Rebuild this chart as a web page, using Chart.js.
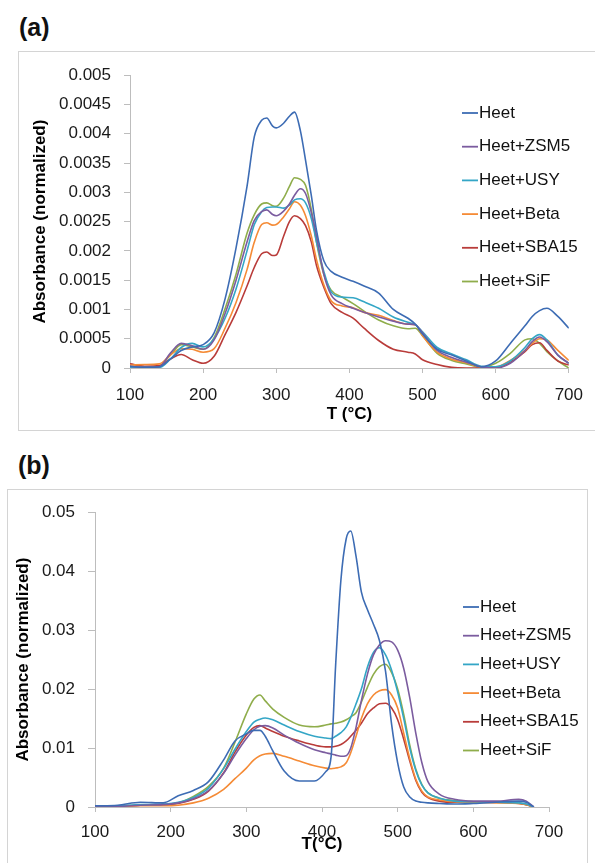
<!DOCTYPE html>
<html lang="en">
<head>
<meta charset="UTF-8">
<title>Absorbance vs temperature</title>
<script src="https://cdn.jsdelivr.net/npm/chart.js@4.4.1/dist/chart.umd.min.js"></script>
<style>
  body { margin: 0; background: #fff; width: 595px; height: 863px; overflow: hidden; position: relative;
         font-family: 'Liberation Sans', Arial, sans-serif; }
  .panel { position: absolute; font-weight: bold; font-size: 25px; line-height: 26px; color: #111; }
  .box { position: absolute; border: 1px solid #d4d4d4; box-sizing: border-box; }
  canvas { position: absolute; }
</style>
</head>
<body>
<div class="panel" style="left:19px;top:14px">(a)</div>
<div class="box" style="left:18px;top:51px;width:600px;height:380px"></div>
<canvas id="chartA" width="577" height="378" style="left:18px;top:52px"></canvas>

<div class="panel" style="left:18px;top:452px">(b)</div>
<div class="box" style="left:7px;top:489px;width:581px;height:400px"></div>
<canvas id="chartB" width="580" height="374" style="left:7px;top:489px"></canvas>

<script>
// ---- panel (a) ----
const tempA = [100,120,140,155,170,185,200,215,230,245,260,270,280,287,295,300,310,318,325,333,340,348,355,365,375,390,405,420,440,460,480,490,500,520,540,560,580,600,620,640,650,660,670,685,700];
const heetA  = [0.00003,0.00001,0.00002,0.00015,0.00030,0.00036,0.00040,0.00060,0.00118,0.00205,0.00310,0.00395,0.00423,0.00427,0.00413,0.00410,0.00418,0.00430,0.00437,0.00405,0.00355,0.00294,0.00235,0.00183,0.00165,0.00155,0.00148,0.00140,0.00128,0.00100,0.00085,0.00075,0.00058,0.00032,0.00022,0.00012,0.00002,0.00012,0.00042,0.00072,0.00088,0.00098,0.00102,0.00088,0.00068];
const zsm5A  = [0.00003,0.00001,0.00002,0.00025,0.00042,0.00038,0.00032,0.00048,0.00093,0.00150,0.00215,0.00252,0.00267,0.00270,0.00262,0.00260,0.00268,0.00280,0.00295,0.00306,0.00298,0.00265,0.00225,0.00160,0.00125,0.00110,0.00102,0.00095,0.00087,0.00080,0.00075,0.00074,0.00060,0.00030,0.00018,0.00010,0.00002,0.00000,0.00008,0.00030,0.00045,0.00053,0.00045,0.00022,0.00008];
const usyA   = [0.00001,0.00001,0.00001,0.00015,0.00035,0.00042,0.00036,0.00050,0.00085,0.00135,0.00200,0.00245,0.00267,0.00274,0.00275,0.00275,0.00273,0.00278,0.00287,0.00289,0.00282,0.00255,0.00215,0.00165,0.00130,0.00121,0.00120,0.00113,0.00102,0.00087,0.00078,0.00074,0.00062,0.00035,0.00024,0.00014,0.00003,0.00002,0.00012,0.00035,0.00050,0.00057,0.00048,0.00022,0.00008];
const betaA  = [0.00005,0.00006,0.00007,0.00022,0.00033,0.00032,0.00027,0.00033,0.00068,0.00112,0.00168,0.00215,0.00245,0.00248,0.00244,0.00245,0.00258,0.00272,0.00284,0.00278,0.00260,0.00225,0.00185,0.00142,0.00115,0.00106,0.00103,0.00095,0.00090,0.00081,0.00075,0.00074,0.00055,0.00027,0.00015,0.00009,0.00002,0.00002,0.00013,0.00030,0.00042,0.00050,0.00048,0.00030,0.00013];
const sba15A = [0.00007,0.00003,0.00004,0.00015,0.00023,0.00014,0.00008,0.00020,0.00057,0.00095,0.00140,0.00172,0.00195,0.00198,0.00192,0.00193,0.00225,0.00250,0.00260,0.00255,0.00243,0.00215,0.00175,0.00138,0.00110,0.00095,0.00085,0.00068,0.00047,0.00032,0.00027,0.00024,0.00014,0.00006,0.00001,0.00000,0.00000,0.00000,0.00010,0.00028,0.00040,0.00043,0.00030,0.00012,0.00005];
const sifA   = [0.00001,0.00001,0.00003,0.00022,0.00040,0.00036,0.00032,0.00052,0.00101,0.00160,0.00230,0.00262,0.00280,0.00282,0.00277,0.00276,0.00290,0.00310,0.00325,0.00322,0.00312,0.00270,0.00215,0.00160,0.00133,0.00121,0.00110,0.00097,0.00082,0.00072,0.00067,0.00068,0.00055,0.00025,0.00013,0.00007,0.00001,0.00008,0.00025,0.00048,0.00050,0.00042,0.00028,0.00012,0.00000];

// ---- panel (b) ----
const tempB = [100,130,160,190,210,230,250,270,285,300,310,318,325,335,350,370,390,405,412,418,425,432,438,445,452,460,468,476,484,492,500,508,516,524,532,540,555,575,600,630,660,670,680];
const heetB  = [0.0002,0.0003,0.0008,0.0007,0.0019,0.0028,0.0043,0.0080,0.0112,0.0124,0.0130,0.0130,0.0120,0.0095,0.0061,0.0044,0.0044,0.0060,0.0085,0.0240,0.0385,0.0455,0.0468,0.0425,0.0365,0.0335,0.0310,0.0282,0.0230,0.0140,0.0075,0.0034,0.0017,0.0010,0.0008,0.0007,0.0006,0.0005,0.0006,0.0008,0.0010,0.0008,0.0000];
const zsm5B  = [0.0001,0.0001,0.0003,0.0004,0.0007,0.0014,0.0028,0.0057,0.0088,0.0116,0.0131,0.0137,0.0138,0.0134,0.0122,0.0108,0.0097,0.0092,0.0090,0.0088,0.0086,0.0087,0.0100,0.0135,0.0180,0.0225,0.0258,0.0275,0.0282,0.0280,0.0266,0.0235,0.0185,0.0125,0.0075,0.0043,0.0022,0.0013,0.0010,0.0010,0.0013,0.0010,0.0000];
const usyB   = [0.0001,0.0002,0.0004,0.0005,0.0008,0.0016,0.0032,0.0065,0.0098,0.0128,0.0144,0.0149,0.0151,0.0148,0.0139,0.0128,0.0120,0.0117,0.0116,0.0120,0.0126,0.0136,0.0152,0.0175,0.0200,0.0237,0.0262,0.0270,0.0258,0.0232,0.0195,0.0150,0.0100,0.0062,0.0037,0.0024,0.0015,0.0010,0.0009,0.0008,0.0007,0.0005,0.0000];
const betaB  = [0.0001,0.0001,0.0002,0.0002,0.0003,0.0007,0.0015,0.0030,0.0048,0.0066,0.0080,0.0087,0.0090,0.0091,0.0086,0.0078,0.0070,0.0066,0.0065,0.0066,0.0068,0.0075,0.0092,0.0120,0.0150,0.0175,0.0190,0.0197,0.0199,0.0190,0.0168,0.0125,0.0082,0.0047,0.0027,0.0017,0.0012,0.0009,0.0008,0.0007,0.0006,0.0004,0.0000];
const sba15B = [0.0001,0.0001,0.0003,0.0004,0.0006,0.0013,0.0027,0.0058,0.0093,0.0122,0.0135,0.0138,0.0134,0.0128,0.0120,0.0112,0.0105,0.0102,0.0102,0.0103,0.0106,0.0112,0.0120,0.0130,0.0142,0.0158,0.0168,0.0175,0.0176,0.0168,0.0148,0.0115,0.0078,0.0045,0.0025,0.0016,0.0010,0.0008,0.0008,0.0008,0.0006,0.0004,0.0000];
const sifB   = [0.0001,0.0002,0.0003,0.0004,0.0007,0.0018,0.0035,0.0066,0.0110,0.0158,0.0183,0.0190,0.0180,0.0166,0.0152,0.0139,0.0136,0.0139,0.0141,0.0142,0.0144,0.0148,0.0153,0.0160,0.0178,0.0203,0.0225,0.0238,0.0242,0.0228,0.0200,0.0157,0.0105,0.0064,0.0038,0.0024,0.0015,0.0011,0.0009,0.0008,0.0007,0.0004,0.0000];

const seriesNames = ['Heet', 'Heet+ZSM5', 'Heet+USY', 'Heet+Beta', 'Heet+SBA15', 'Heet+SiF'];
const seriesColors = ['#3d6cb4', '#7b5c9f', '#34a6c6', '#f58b36', '#b93c3a', '#8fad4b'];

const FONT = "'Liberation Sans', Arial, sans-serif";

// legend drawn over the plot, like the Excel original
const sideLegend = {
  id: 'sideLegend',
  afterDraw(chart, args, opts) {
    const ctx = chart.ctx;
    ctx.save();
    ctx.font = '17px ' + FONT;
    ctx.textBaseline = 'middle';
    chart.data.datasets.forEach((ds, i) => {
      const y = opts.top + i * opts.gap;
      ctx.strokeStyle = ds.borderColor;
      ctx.lineWidth = 1.8;
      ctx.beginPath();
      ctx.moveTo(opts.left, y);
      ctx.lineTo(opts.left + 16, y);
      ctx.stroke();
      ctx.fillStyle = '#111';
      ctx.fillText(ds.label, opts.left + 17, y);
    });
    ctx.restore();
  }
};

function buildDatasets(xs, list) {
  return list.map((ys, i) => ({
    label: seriesNames[i],
    data: xs.map((x, j) => ({ x: x, y: ys[j] })),
    borderColor: seriesColors[i],
    backgroundColor: seriesColors[i],
    borderWidth: 1.6,
    pointRadius: 0,
    cubicInterpolationMode: 'monotone',
    fill: false
  }));
}

function makeChart(id, cfg) {
  return new Chart(document.getElementById(id), {
    type: 'line',
    data: { datasets: buildDatasets(cfg.xs, cfg.series) },
    plugins: [sideLegend],
    options: {
      responsive: false,
      animation: false,
      devicePixelRatio: 1,
      layout: { padding: { top: cfg.padTop, right: cfg.padRight, left: 0, bottom: 0 } },
      plugins: {
        legend: { display: false },
        tooltip: { enabled: false },
        sideLegend: cfg.legend
      },
      scales: {
        x: {
          type: 'linear', min: 100, max: 700,
          afterFit: s => { s.height = cfg.xHeight; },
          border: { color: '#bdbdbd', width: 1 },
          grid: { drawOnChartArea: false, color: '#bdbdbd', tickLength: 5 },
          ticks: { stepSize: 100, color: '#1a1a1a', padding: cfg.xTickPad, font: { family: FONT, size: 17 } },
          title: { display: true, text: cfg.xTitle, color: '#000', padding: { top: 0, bottom: cfg.xTitlePad },
                   font: { family: FONT, size: 17, weight: 'bold' } }
        },
        y: {
          min: 0, max: cfg.yMax,
          afterFit: s => { s.width = cfg.yWidth; },
          border: { color: '#bdbdbd', width: 1 },
          grid: { drawOnChartArea: false, color: '#bdbdbd', tickLength: cfg.yTick },
          ticks: { stepSize: cfg.yStep, color: '#1a1a1a', padding: 13, font: { family: FONT, size: 17 },
                   callback: v => String(+v.toFixed(cfg.yDigits)) },
          title: { display: true, text: 'Absorbance (normalized)', color: '#000', padding: { top: cfg.yTitlePad, bottom: 0 },
                   font: { family: FONT, size: 17, weight: 'bold' } }
        }
      }
    }
  });
}

makeChart('chartA', {
  xs: tempA, series: [heetA, zsm5A, usyA, betaA, sba15A, sifA],
  padTop: 15, padRight: 26, xHeight: 62, yWidth: 112, yTick: 6,
  yMax: 0.005, yStep: 0.0005, yDigits: 4,
  xTickPad: 12, xTitle: 'T (°C)', xTitlePad: 5, yTitlePad: 12,
  legend: { left: 444, top: 61, gap: 33.7 }
});

makeChart('chartB', {
  xs: tempB, series: [heetB, zsm5B, usyB, betaB, sba15B, sifB],
  padTop: 18, padRight: 38, xHeight: 56, yWidth: 88, yTick: 7,
  yMax: 0.05, yStep: 0.01, yDigits: 2,
  xTickPad: 10, xTitle: 'T(°C)', xTitlePad: 8, yTitlePad: 6,
  legend: { left: 456, top: 118, gap: 28.7 }
});
</script>
</body>
</html>
